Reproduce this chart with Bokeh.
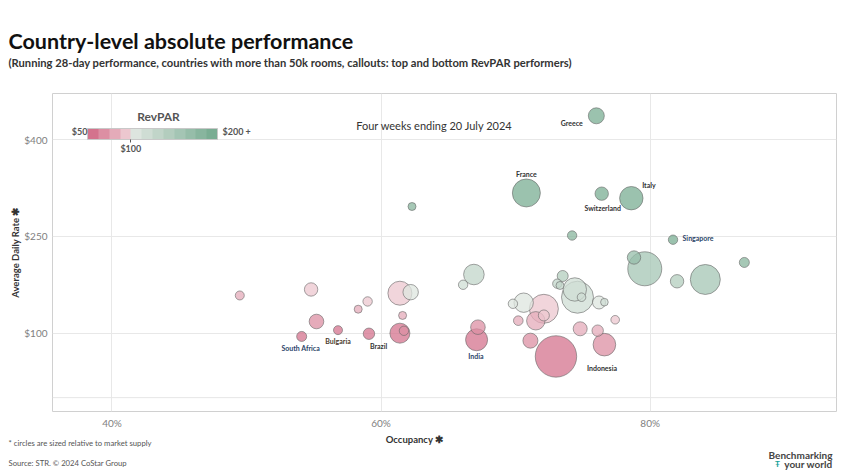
import math
from bokeh.plotting import figure
from bokeh.models import (ColumnDataSource, LinearColorMapper, ColorBar, FixedTicker,
                          PrintfTickFormatter, Label, Span, Range1d)
from bokeh.core.properties import value
from bokeh.embed import file_html
from bokeh.resources import INLINE

# ---------------- data ----------------
occupancy = [49.5, 54.8, 55.2, 54.1, 56.8, 58.3, 59.0, 59.1, 61.4, 62.2,
             61.6, 61.4, 61.7, 62.3, 66.9, 66.1, 67.2, 67.1, 70.6, 69.8,
             72.1, 71.5, 72.1, 70.2, 71.1, 73.0, 73.5, 73.1, 73.3, 74.4,
             74.6, 74.9, 76.2, 76.6, 74.8, 76.1, 77.4, 76.6, 70.8, 76.4,
             78.6, 76.0, 74.2, 81.7, 78.8, 79.6, 82.0, 84.1, 87.0]
adr = [158.5, 167.8, 118.1, 94.9, 104.7, 137.2, 149.2, 99.1, 162.0, 163.6,
       127.5, 100.0, 103.7, 296.5, 191.0, 175.1, 109.3, 89.8, 147.3, 145.6,
       137.8, 119.2, 127.5, 119.4, 88.4, 63.9, 188.7, 176.8, 174.0, 167.8,
       155.8, 155.8, 147.6, 148.1, 106.8, 103.9, 120.8, 82.2, 317.5, 316.4,
       309.4, 437.2, 251.5, 245.0, 217.4, 199.9, 180.5, 183.3, 209.7]
supply = [71, 157, 187, 88, 71, 56, 77, 114, 504, 208,
          56, 350, 77, 56, 371, 77, 187, 424, 329, 77,
          736, 296, 106, 81, 197, 1500, 106, 77, 56, 479,
          896, 65, 148, 51, 172, 114, 65, 447, 686, 157,
          479, 224, 77, 77, 157, 1012, 157, 788, 88]
callout = ["", "", "", "South Africa", "Bulgaria", "", "", "Brazil", "", "",
           "", "", "", "", "", "", "", "India", "", "",
           "", "", "", "", "", "Indonesia", "", "", "", "",
           "", "", "", "", "", "", "", "", "France", "Switzerland",
           "Italy", "Greece", "", "Singapore", "", "", "", "", ""]

x_ticks = [40, 60, 80]
y_ticks = [100, 250, 400]
legend_low, legend_mid, legend_high = 50, 100, 200

# ---------------- styles ----------------
palette = ["#d4738d", "#dc8fa3", "#e4abb9", "#ecc7cf",
           "#dde5df", "#cfddd4", "#c1d5c9", "#b3cdbe",
           "#a4c5b4", "#96bda9", "#88b59e", "#7aad93"]
callout_style = {  # dx, dy (px), align, color
    "Greece": (-13.6, 7.4, "right", "#333333"),
    "France": (0, -18.5, "center", "#333333"),
    "Switzerland": (1, 14.5, "center", "#333333"),
    "Italy": (17.6, -13.4, "center", "#333333"),
    "Singapore": (9.5, -1.5, "left", "#2b4468"),
    "South Africa": (-1, 11.7, "center", "#2b4468"),
    "Bulgaria": (0, 10.6, "center", "#4a3a2a"),
    "Brazil": (9.7, 12, "center", "#333333"),
    "India": (-0.7, 16.7, "center", "#2b4468"),
    "Indonesia": (46, 11.7, "center", "#333333"),
}
FONT = "Lato"
W = 844
LEFT_PAD = 7


def lab(fig, x, y, text, size, color="#333333", style="normal", align="left"):
    fig.add_layout(Label(x=x, y=y, x_units="screen", y_units="screen", text=text,
                         text_font_size=size, text_color=color, text_font_style=style,
                         text_align=align, text_baseline="middle", text_font=FONT))


def blank(h):
    f = figure(width=W, height=h, output_backend="svg", toolbar_location=None,
               x_range=Range1d(0, 1), y_range=Range1d(0, 1),
               min_border=0, min_border_left=0, min_border_right=0,
               min_border_top=0, min_border_bottom=0)
    f.axis.visible = False
    f.grid.visible = False
    f.outline_line_color = None
    f.background_fill_color = "white"
    f.border_fill_color = "white"
    return f


# ---------------- header ----------------
header = blank(83)
lab(header, 8, 43, "Country-level absolute performance", "21.5px", "#111111", "bold")
lab(header, 8, 21, "(Running 28-day performance, countries with more than 50k rooms, "
    "callouts: top and bottom RevPAR performers)", "11.2px", "#333333", "bold")

# ---------------- main chart ----------------
revpar = [o * a / 100 for o, a in zip(occupancy, adr)]
diam = [2 * math.sqrt(s / 3.5) for s in supply]
order = sorted(range(len(occupancy)), key=lambda i: -supply[i])
src = ColumnDataSource(dict(
    occ=[occupancy[i] for i in order],
    adr=[adr[i] for i in order],
    revpar=[revpar[i] for i in order],
    size=[diam[i] for i in order],
))

p = figure(width=W - LEFT_PAD, height=348, output_backend="svg", toolbar_location=None,
           x_range=Range1d(35.58, 93.85), y_range=Range1d(-21.5, 471.8),
           min_border_left=51 - LEFT_PAD, min_border_right=8,
           min_border_top=10, min_border_bottom=20)
p.margin = (0, 0, 0, LEFT_PAD)
p.outline_line_color = "#d0d0d0"
p.background_fill_color = "white"
p.border_fill_color = "white"

mapper = LinearColorMapper(palette=palette, low=legend_low, high=legend_high,
                           low_color=palette[0], high_color=palette[-1])

p.add_layout(Span(location=0, dimension="width", line_color="#e6e6e6", line_width=1))

p.scatter(x="occ", y="adr", size="size", source=src,
          fill_color={"field": "revpar", "transform": mapper}, fill_alpha=0.75,
          line_color="#666666", line_alpha=0.75, line_width=0.8)

for name, (dx, dy, align, color) in callout_style.items():
    i = callout.index(name)
    cs = ColumnDataSource(dict(x=[occupancy[i]], y=[adr[i]], t=[name]))
    p.text(x="x", y="y", text="t", source=cs, x_offset=dx, y_offset=dy,
           text_align=align, text_baseline="middle", text_font_size="7px",
           text_font_style="bold", text_color=color, text_font=value(FONT))

p.xaxis.ticker = FixedTicker(ticks=x_ticks)
p.yaxis.ticker = FixedTicker(ticks=y_ticks)
p.xaxis.formatter = PrintfTickFormatter(format="%d%%")
p.yaxis.formatter = PrintfTickFormatter(format="$%d")
for ax in (p.xaxis, p.yaxis):
    ax.axis_line_color = None
    ax.major_tick_line_color = None
    ax.minor_tick_line_color = None
    ax.major_tick_out = 0
    ax.major_tick_in = 0
    ax.minor_tick_out = 0
    ax.major_label_text_color = "#808080"
    ax.major_label_text_font_size = "10px"
    ax.major_label_text_font = FONT
    ax.axis_label_text_font = FONT
    ax.axis_label_text_font_size = "9.5px"
    ax.axis_label_text_font_style = "bold"
    ax.axis_label_text_color = "#333333"
    ax.major_label_standoff = 5
p.yaxis.axis_label = "Average Daily Rate \u2731"
p.yaxis.axis_label_standoff = 0
p.xgrid.grid_line_color = "#e8e8e8"
p.ygrid.grid_line_color = "#e8e8e8"

cb = ColorBar(color_mapper=mapper, orientation="horizontal", width=130, height=11,
              location=(35, 255), padding=0, ticker=FixedTicker(ticks=[legend_mid]),
              formatter=PrintfTickFormatter(format="$%d"),
              major_label_text_font_size="9px", major_label_text_color="#555555",
              major_label_text_font_style="bold", major_label_text_font=FONT,
              major_tick_line_color="#555555", major_tick_in=0, major_tick_out=3,
              bar_line_color="#c8c8c8", background_fill_alpha=0, border_line_color=None,
              label_standoff=0)
p.add_layout(cb)

lab(p, 106, 295, "RevPAR", "12px", "#555555", "bold", "center")
lab(p, 35, 280, "$%d" % legend_low, "9px", "#555555", "bold", "right")
lab(p, 170, 280, "$%d +" % legend_high, "9px", "#555555", "bold", "left")
lab(p, 382, 286, "Four weeks ending 20 July 2024", "11px", "#333333", "normal", "center")

# ---------------- footer ----------------
footer = blank(42)
lab(footer, 414, 34, "Occupancy \u2731", "9.5px", "#333333", "bold", "center")
lab(footer, 8, 31, "* circles are sized relative to market supply", "7.7px", "#555555")
lab(footer, 8, 11, "Source: STR. \u00a9 2024 CoStar Group", "7.7px", "#555555")
lab(footer, 832, 19, "Benchmarking", "10px", "#444444", "bold", "right")
lab(footer, 832, 9.5, "your world", "10px", "#444444", "bold", "right")
lab(footer, 777, 10, "\u0166", "8px", "#1aa39a", "bold", "center")

open("out.html", "w").write(file_html([header, p, footer], INLINE))
